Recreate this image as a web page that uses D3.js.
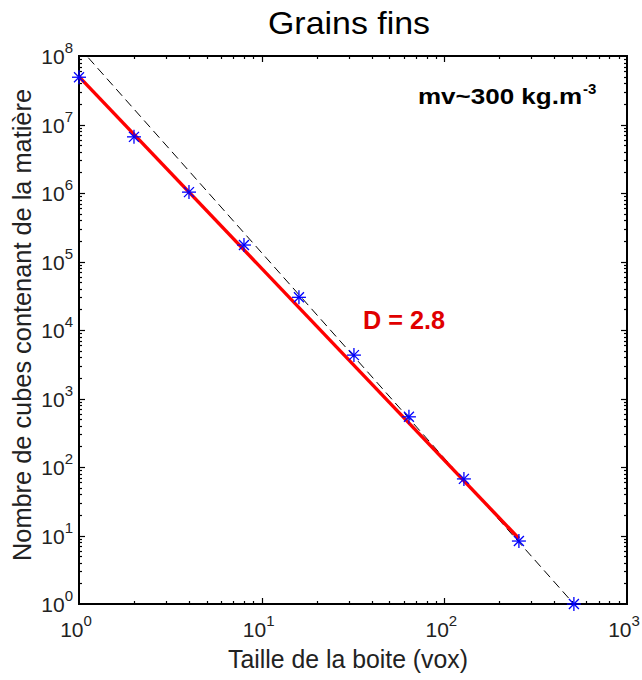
<!DOCTYPE html>
<html><head><meta charset="utf-8">
<script src="https://cdn.jsdelivr.net/npm/d3@7"></script>
<style>body{margin:0;background:#fff}svg{display:block}text{font-family:Arial,"Liberation Sans",sans-serif}</style>
</head><body>
<script>
// Data
const boxSizes = [1, 2, 4, 8, 16, 32, 64, 128, 256, 512];
const cubeCounts = [4.9e7, 6.6e6, 1.03e6, 1.74e5, 3.0e4, 4.3e3, 5.4e2, 67, 8.3, 1];
const fitD = 2.8, fitK = 5e7, fitRange = [1, 256];
const refD = 3, refL = 512, refRange = [1, 512];
const xTickExps = [0, 1, 2, 3];
const yTickExps = [0, 1, 2, 3, 4, 5, 6, 7, 8];
const titleText = "Grains fins";
const xLabel = "Taille de la boite (vox)";
const yLabel = "Nombre de cubes contenant de la matière";
const densityText = "mv~300 kg.m";
const densityExp = "-3";
const dText = "D = 2.8";

const W = 642, H = 680;
const m = {left: 79, right: 627, top: 56, bottom: 604};
const svg = d3.select("body").append("svg").attr("width", W).attr("height", H);

const x = d3.scaleLog().domain([1, 1000]).range([m.left, m.right]);
const y = d3.scaleLog().domain([1, 1e8]).range([m.bottom, m.top]);

svg.append("clipPath").attr("id", "clip").append("rect")
  .attr("x", m.left).attr("y", m.top).attr("width", m.right - m.left).attr("height", m.bottom - m.top);

const g = svg.append("g");
function minorVals(exps) {
  const out = [];
  for (let i = 0; i < exps.length - 1; i++) for (let k = 2; k <= 9; k++) out.push(k * Math.pow(10, exps[i]));
  return out;
}
const xMinor = minorVals(xTickExps), yMinor = minorVals(yTickExps);
const xMajor = xTickExps.map(e => Math.pow(10, e)), yMajor = yTickExps.map(e => Math.pow(10, e));
const tickG = g.append("g").attr("stroke", "#000").attr("stroke-width", 1.2);
[[xMinor, 3], [xMajor.slice(1, -1), 6]].forEach(([vals, len]) => {
  vals.forEach(v => {
    const px = Math.round(x(v)) + 0.5;
    tickG.append("line").attr("x1", px).attr("x2", px).attr("y1", m.bottom).attr("y2", m.bottom - len);
    tickG.append("line").attr("x1", px).attr("x2", px).attr("y1", m.top).attr("y2", m.top + len);
  });
});
[[yMinor, 3], [yMajor.slice(1, -1), 6]].forEach(([vals, len]) => {
  vals.forEach(v => {
    const py = Math.round(y(v)) + 0.5;
    tickG.append("line").attr("y1", py).attr("y2", py).attr("x1", m.left).attr("x2", m.left + len);
    tickG.append("line").attr("y1", py).attr("y2", py).attr("x1", m.right).attr("x2", m.right - len);
  });
});
g.append("rect").attr("x", m.left).attr("y", m.top).attr("width", m.right - m.left).attr("height", m.bottom - m.top)
  .attr("fill", "none").attr("stroke", "#000").attr("stroke-width", 2);

// tick labels
xTickExps.forEach(e => {
  const t = svg.append("text").attr("x", x(Math.pow(10, e)) - 3).attr("y", 637).attr("text-anchor", "middle")
    .attr("font-size", 21).attr("fill", "#222");
  t.append("tspan").text("10");
  t.append("tspan").attr("dy", -11).attr("font-size", 15).text(e);
});
yTickExps.forEach(e => {
  const t = svg.append("text").attr("x", 73).attr("y", y(Math.pow(10, e)) + 8).attr("text-anchor", "end")
    .attr("font-size", 21).attr("fill", "#222");
  t.append("tspan").text("10");
  t.append("tspan").attr("dy", -11).attr("font-size", 15).text(e);
});

// lines
const plot = svg.append("g").attr("clip-path", "url(#clip)");
const line = d3.line().x(d => x(d[0])).y(d => y(d[1]));
const refPts = refRange.map(s => [s, Math.pow(refL / s, refD)]);
plot.append("path").attr("d", line(refPts)).attr("fill", "none").attr("stroke", "#000")
  .attr("stroke-width", 1).attr("stroke-dasharray", "9,5");
const fitPts = fitRange.map(s => [s, fitK * Math.pow(s, -fitD)]);
svg.append("path").attr("d", line(fitPts)).attr("fill", "none").attr("stroke", "#ff0000").attr("stroke-width", 3.4);

// markers
const r = 7, rd = 5;
const mk = svg.append("g").attr("stroke", "#0000ff").attr("stroke-width", 1.3);
boxSizes.forEach((s, i) => {
  const cx = x(s), cy = y(cubeCounts[i]);
  mk.append("line").attr("x1", cx - r).attr("x2", cx + r).attr("y1", cy).attr("y2", cy);
  mk.append("line").attr("x1", cx).attr("x2", cx).attr("y1", cy - r).attr("y2", cy + r);
  mk.append("line").attr("x1", cx - rd).attr("x2", cx + rd).attr("y1", cy - rd).attr("y2", cy + rd);
  mk.append("line").attr("x1", cx - rd).attr("x2", cx + rd).attr("y1", cy + rd).attr("y2", cy - rd);
});

// annotations
svg.append("text").attr("x", 363).attr("y", 329).attr("font-size", 25).attr("font-weight", "bold")
  .attr("fill", "#e00000").attr("textLength", 82).attr("lengthAdjust", "spacingAndGlyphs").text(dText);
svg.append("text").attr("x", 418).attr("y", 104).attr("font-size", 22).attr("font-weight", "bold").attr("fill", "#000")
  .attr("textLength", 164).attr("lengthAdjust", "spacingAndGlyphs").text(densityText);
svg.append("text").attr("x", 583).attr("y", 94).attr("font-size", 15).attr("font-weight", "bold").attr("fill", "#000").text(densityExp);

// title & labels
svg.append("text").attr("x", 349).attr("y", 34).attr("text-anchor", "middle").attr("font-size", 32).attr("fill", "#000")
  .attr("textLength", 162).attr("lengthAdjust", "spacingAndGlyphs").text(titleText);
svg.append("text").attr("x", 348).attr("y", 668).attr("text-anchor", "middle").attr("font-size", 25).attr("fill", "#222")
  .attr("textLength", 240).attr("lengthAdjust", "spacingAndGlyphs").text(xLabel);
svg.append("text").attr("transform", "translate(31,325) rotate(-90)").attr("text-anchor", "middle")
  .attr("font-size", 25).attr("fill", "#222")
  .attr("textLength", 472).attr("lengthAdjust", "spacingAndGlyphs").text(yLabel);
</script>
</body></html>
